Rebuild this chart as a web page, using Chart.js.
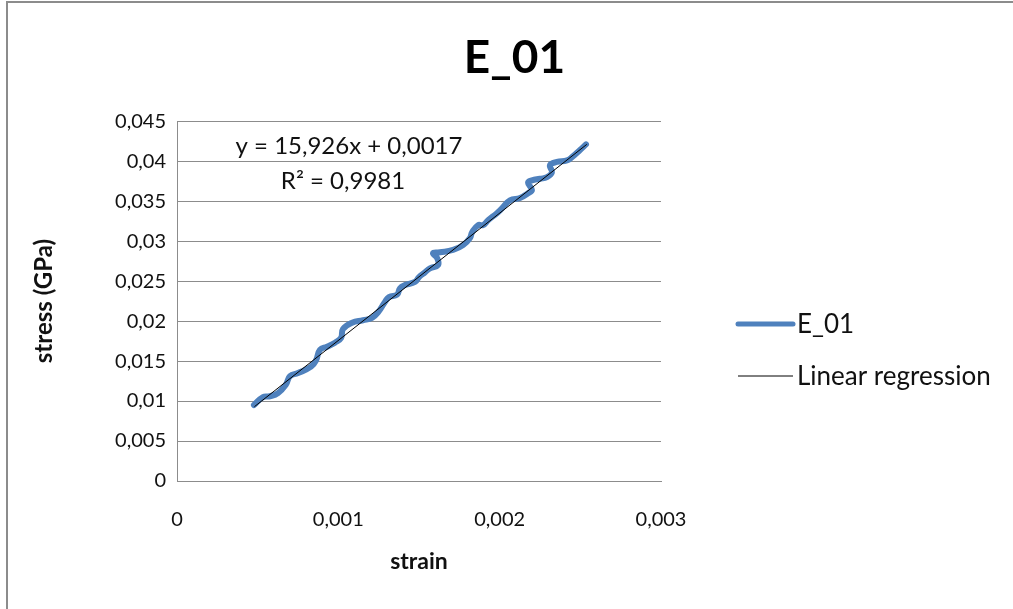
<!DOCTYPE html>
<html>
<head>
<meta charset="utf-8">
<title>E_01</title>
<script src="https://cdn.jsdelivr.net/npm/chart.js@4"></script>
<style>
    html, body {
        margin: 0;
        padding: 0;
        background: #ffffff;
        overflow: hidden;
    }
    .frame {
        position: absolute;
        left: 6px;
        top: 1px;
        width: 1100px;
        height: 700px;
        border-top: 2px solid #8c8c8c;
        border-left: 2px solid #8c8c8c;
    }
    .chart-wrap {
        position: absolute;
        left: 0;
        top: 0;
        width: 1013px;
        height: 609px;
    }
</style>
</head>
<body>
<div class="frame"></div>
<div class="chart-wrap">
    <canvas id="stressChart" width="1013" height="609"></canvas>
</div>
<script>
const strain = [
    0.000477, 0.000533, 0.000576, 0.000626, 0.000676, 0.000700, 0.000750, 0.000831,
    0.000862, 0.000886, 0.000930, 0.000979, 0.001017, 0.001029, 0.001085, 0.001153,
    0.001209, 0.001246, 0.001289, 0.001314, 0.001364, 0.001382, 0.001413, 0.001475,
    0.001500, 0.001537, 0.001568, 0.001618, 0.001612, 0.001587, 0.001630, 0.001711,
    0.001773, 0.001816, 0.001829, 0.001866, 0.001897, 0.001928, 0.001983, 0.002014,
    0.002064, 0.002126, 0.002176, 0.002200, 0.002176, 0.002200, 0.002250, 0.002293,
    0.002324, 0.002312, 0.002355, 0.002417, 0.002448, 0.002498, 0.002535
];
const stress = [
    0.0095, 0.0105, 0.0106, 0.0110, 0.0121, 0.0131, 0.0135, 0.0143,
    0.0151, 0.0164, 0.0168, 0.0173, 0.0179, 0.0190, 0.0198, 0.0201,
    0.0204, 0.0211, 0.0224, 0.0230, 0.0233, 0.0241, 0.0245, 0.0249,
    0.0255, 0.0261, 0.0266, 0.0270, 0.0279, 0.0285, 0.0286, 0.0289,
    0.0295, 0.0304, 0.0311, 0.0320, 0.0320, 0.0326, 0.0335, 0.0341,
    0.0351, 0.0354, 0.0360, 0.0364, 0.0373, 0.0376, 0.0378, 0.0380,
    0.0386, 0.0395, 0.0399, 0.0401, 0.0405, 0.0414, 0.0421
];

// Trendline end points
const regStrain = [0.00048, 0.00254];
const regStress = [0.0093, 0.0421];

const equationLines = ['y = 15,926x + 0,0017', 'R\u00B2 = 0,9981'];
const legendLabels = ['E_01', 'Linear regression'];

const FONT = 'Lato, "Open Sans", sans-serif';

function toPoints(xs, ys) {
    return xs.map(function(x, i) { return { x: x, y: ys[i] }; });
}

function commaNumber(v) {
    return String(parseFloat(v.toFixed(4))).replace('.', ',');
}

// Equation text and right-hand legend, drawn the way the spreadsheet places them
const extrasPlugin = {
    id: 'extras',
    afterDraw: function(chart) {
        const ctx = chart.ctx;
        ctx.save();
        ctx.fillStyle = '#111111';
        ctx.font = '24px ' + FONT;
        ctx.textBaseline = 'middle';
        ctx.textAlign = 'center';
        ctx.fillText(equationLines[0], 349, 146);
        ctx.fillText(equationLines[1], 343, 181);

        ctx.textAlign = 'left';
        ctx.font = '26px ' + FONT;
        const ds = chart.data.datasets;
        const rows = [
            { y: 324, color: ds[1].borderColor, width: 5 },
            { y: 376, color: ds[0].borderColor, width: 1 }
        ];
        rows.forEach(function(row, i) {
            ctx.beginPath();
            ctx.strokeStyle = row.color;
            ctx.lineWidth = row.width;
            ctx.lineCap = i === 0 ? 'round' : 'butt';
            ctx.moveTo(738, row.y);
            ctx.lineTo(793, row.y);
            ctx.stroke();
            ctx.fillText(legendLabels[i], 797, row.y + 1);
        });
        ctx.restore();
    }
};

const ctx = document.getElementById('stressChart');
new Chart(ctx, {
    type: 'scatter',
    data: {
        datasets: [
            {
                label: legendLabels[1],
                data: toPoints(regStrain, regStress),
                showLine: true,
                borderColor: '#000000',
                borderWidth: 1,
                pointRadius: 0,
                order: 1
            },
            {
                label: legendLabels[0],
                data: toPoints(strain, stress),
                showLine: true,
                borderColor: '#4f81bd',
                borderWidth: 6,
                borderCapStyle: 'round',
                borderJoinStyle: 'round',
                tension: 0.45,
                pointRadius: 0,
                order: 2
            }
        ]
    },
    plugins: [extrasPlugin],
    options: {
        responsive: false,
        animation: false,
        layout: {
            padding: { left: 16, right: 0, top: 0, bottom: 0 }
        },
        plugins: {
            legend: { display: false },
            tooltip: { enabled: false },
            title: {
                display: true,
                text: 'E_01',
                color: '#000000',
                font: { family: FONT, size: 46, weight: 'bold', lineHeight: 1.2 },
                padding: { top: 31, bottom: 35 }
            }
        },
        scales: {
            x: {
                type: 'linear',
                min: 0,
                max: 0.003,
                afterFit: function(scale) { scale.height = 128; },
                ticks: {
                    stepSize: 0.001,
                    padding: 27,
                    color: '#111111',
                    font: { family: FONT, size: 20 },
                    callback: function(v) { return commaNumber(v); }
                },
                grid: { display: false, drawTicks: false },
                border: { display: true, color: '#8c8c8c', width: 1 },
                title: {
                    display: true,
                    text: 'strain',
                    color: '#111111',
                    font: { family: FONT, size: 23, weight: 'bold', lineHeight: 1.2 },
                    padding: { top: 0, bottom: 34 }
                }
            },
            y: {
                min: 0,
                max: 0.045,
                afterFit: function(scale) { scale.width = 161; },
                ticks: {
                    stepSize: 0.005,
                    padding: 11,
                    color: '#111111',
                    font: { family: FONT, size: 20 },
                    callback: function(v) { return commaNumber(v); }
                },
                grid: { color: '#8c8c8c', lineWidth: 1, drawTicks: false },
                border: { display: true, color: '#8c8c8c', width: 1 },
                title: {
                    display: true,
                    text: 'stress (GPa)',
                    color: '#111111',
                    font: { family: FONT, size: 24, weight: 'bold', lineHeight: 1.2 },
                    padding: { top: 14, bottom: 0 }
                }
            },
            // empty right-hand band that leaves room for the legend
            yRight: {
                position: 'right',
                min: 0,
                max: 0.045,
                afterFit: function(scale) { scale.width = 352; },
                ticks: { display: false },
                grid: { display: false, drawTicks: false },
                border: { display: false }
            }
        }
    }
});
</script>
</body>
</html>
